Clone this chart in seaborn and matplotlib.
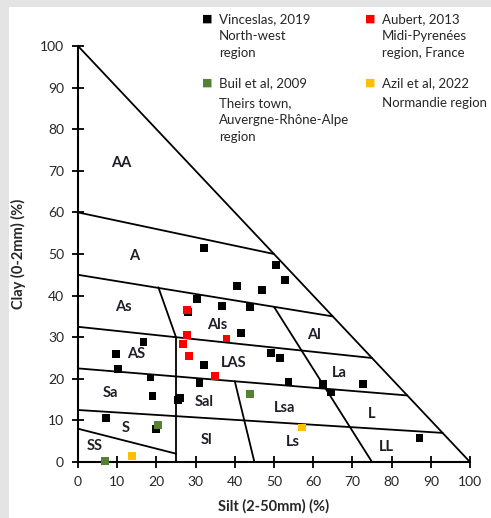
import matplotlib
matplotlib.use("Agg")
import matplotlib.pyplot as plt
from matplotlib.patches import Rectangle
import numpy as np
import pandas as pd
import seaborn as sns

# silt (%) / clay (%), one pair of lists per study
vinceslas_silt = [32.1, 50.5, 52.8, 40.5, 47.0, 30.4, 36.7, 43.9, 28.0, 41.6, 49.3, 51.5, 32.2,
                  53.7, 62.4, 72.6, 64.5, 31.0, 16.7, 9.7, 10.3, 18.5, 19.0, 26.0, 25.6, 7.1, 19.8, 87.1]
vinceslas_clay = [51.4, 47.4, 43.8, 42.3, 41.3, 39.2, 37.5, 37.2, 36.0, 31.1, 26.1, 24.9, 23.3,
                  19.2, 18.8, 18.7, 16.7, 18.9, 28.8, 26.0, 22.3, 20.3, 15.9, 15.4, 15.0, 10.5, 7.9, 5.7]
aubert_silt = [27.9, 27.9, 37.9, 26.7, 28.4, 35.0]
aubert_clay = [36.5, 30.5, 29.7, 28.3, 25.5, 20.7]
buil_silt = [43.9, 20.5, 6.9]
buil_clay = [16.3, 8.9, 0.2]
azil_silt = [13.7, 57.1]
azil_clay = [1.5, 8.3]

sources = ['Vinceslas, 2019', 'Aubert, 2013', 'Buil et al, 2009', 'Azil et al, 2022']
source_notes = [['North-west', 'region'], ['Midi-Pyrenées', 'region, France'],
                ['Theirs town,', 'Auvergne-Rhône-Alpe', 'region'], ['Normandie region']]
colors = ['#000000', '#ff0000', '#548235', '#ffc000']

# texture class boundaries (silt, clay)
boundaries = [
    [(0, 100), (100, 0)],
    [(0, 60), (50, 50)],
    [(0, 45), (65, 35)],
    [(0, 32.5), (75, 25)],
    [(0, 22.5), (84, 16)],
    [(0, 12.5), (93, 7)],
    [(0, 8), (25, 2)],
    [(25, 0), (25, 30), (20.5, 42)],
    [(50, 37.3), (75, 0)],
    [(40, 19.4), (45, 0)],
]

class_names = ['AA', 'A', 'As', 'AS', 'Sa', 'S', 'SS', 'Als', 'LAS', 'Sal', 'Sl',
               'Al', 'La', 'L', 'LL', 'Lsa', 'Ls']
class_silt = [11.1, 14.3, 11.6, 14.8, 8.3, 12.2, 4.3, 35.4, 39.8, 32.2, 32.8,
              60.2, 66.7, 74.9, 78.7, 52.8, 54.7]
class_clay = [71.9, 49.5, 37.3, 26.0, 16.7, 8.1, 3.9, 32.9, 23.7, 14.5, 5.4,
              30.5, 21.3, 11.5, 3.7, 13.1, 4.9]

df = pd.concat([
    pd.DataFrame({'silt': vinceslas_silt, 'clay': vinceslas_clay, 'source': sources[0]}),
    pd.DataFrame({'silt': aubert_silt, 'clay': aubert_clay, 'source': sources[1]}),
    pd.DataFrame({'silt': buil_silt, 'clay': buil_clay, 'source': sources[2]}),
    pd.DataFrame({'silt': azil_silt, 'clay': azil_clay, 'source': sources[3]}),
], ignore_index=True)

sns.set_style("ticks")
plt.rcParams['font.family'] = ['Lato', 'DejaVu Sans']
text_col = '#262626'

W, H = 491, 518
fig = plt.figure(figsize=(W / 100, H / 100), dpi=100)
fig.patch.set_facecolor('#e4e4e4')
fig.add_artist(Rectangle((9 / W, 0), 1, 1 - 7 / H, transform=fig.transFigure,
                         facecolor='white', edgecolor='none', zorder=-5))

ax = fig.add_axes([78 / W, (H - 462) / H, 392 / W, 416 / H])
ax.set_facecolor('none')

for seg in boundaries:
    pts = np.array(seg)
    ax.plot(pts[:, 0], pts[:, 1], color='black', lw=1.3, zorder=2, clip_on=False)

sns.scatterplot(data=df, x='silt', y='clay', hue='source', hue_order=sources,
                palette=colors, marker='s', s=32, linewidth=0, legend=False,
                ax=ax, zorder=3, clip_on=False)

for name, sx, cy in zip(class_names, class_silt, class_clay):
    ax.text(sx, cy, name, ha='center', va='center', fontsize=10.5,
            fontweight='bold', color='#1e1e28')

ax.set_xlim(0, 100)
ax.set_ylim(0, 100)
ax.set_xticks(range(0, 101, 10))
ax.set_yticks(range(0, 101, 10))
sns.despine(ax=ax)
for side in ['left', 'bottom']:
    ax.spines[side].set_linewidth(1.5)
    ax.spines[side].set_color('black')
ax.tick_params(direction='inout', length=8, width=1.3, colors='black',
               labelcolor=text_col, labelsize=10, pad=6)
ax.set_xlabel('Silt (2-50mm) (%)', fontsize=10.5, fontweight='bold',
              color=text_col, labelpad=8)
ax.set_ylabel('Clay (0-2mm) (%)', fontsize=10.5, fontweight='bold',
              color=text_col, labelpad=10)

# legend drawn as figure text
leg_x = [207, 370]
leg_y = [19, 83]
first_gap = [17, 20]
for i, (src, note, col) in enumerate(zip(sources, source_notes, colors)):
    x0 = leg_x[i % 2]
    row = i // 2
    y0 = leg_y[row]
    fig.text(x0 / W, 1 - y0 / H, '\u25A0', color=col, fontsize=8,
             ha='center', va='center', family='DejaVu Sans')
    fig.text((x0 + 12) / W, 1 - y0 / H, src, color=text_col, fontsize=9.5,
             ha='left', va='center')
    for k, line in enumerate(note):
        yy = y0 + first_gap[row] + 17 * k
        fig.text((x0 + 12) / W, 1 - yy / H, line, color=text_col, fontsize=9.5,
                 ha='left', va='center')

fig.savefig('out.png', dpi=100, facecolor=fig.get_facecolor())
